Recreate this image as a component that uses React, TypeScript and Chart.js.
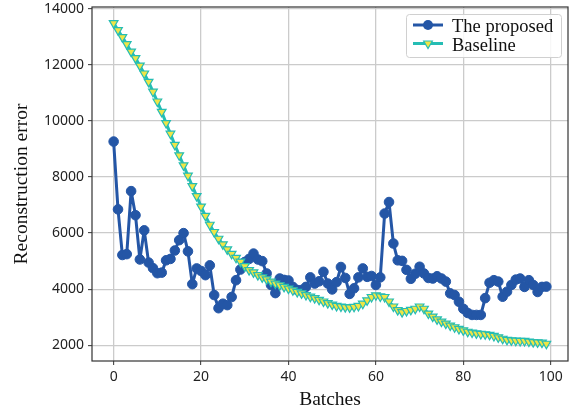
import React, { useEffect, useRef } from 'react';
import { Chart, registerables } from 'chart.js';

Chart.register(...registerables);

// Batches 0..99
const proposed: number[] = [
  9270, 6850, 5220, 5250, 7500, 6640, 5060, 6100, 4950, 4750,
  4570, 4590, 5030, 5080, 5380, 5750, 6000, 5350, 4180, 4740,
  4650, 4500, 4850, 3790, 3320, 3480, 3430, 3720, 4320, 4700,
  4970, 5080, 5270, 5060, 5000, 4560, 4150, 3860, 4380, 4330,
  4310, 4080, 3970, 3970, 4080, 4420, 4200, 4280, 4620, 4200,
  3990, 4250, 4790, 4400, 3830, 4030, 4420, 4740, 4440, 4470,
  4150, 4420, 6700, 7110, 5630, 5030, 5010, 4690, 4370, 4550,
  4800, 4560, 4400, 4380, 4460, 4380, 4270, 3850, 3790, 3550,
  3300, 3150, 3080, 3080, 3080, 3680, 4230, 4320, 4270, 3730,
  3910, 4150, 4340, 4380, 4080, 4320, 4150, 3900, 4080, 4090,
];

const baseline: number[] = [
  13500, 13250, 13000, 12750, 12480, 12250, 11980, 11700, 11400, 11050,
  10700, 10330, 9930, 9550, 9150, 8780, 8420, 8050, 7680, 7320,
  6950, 6620, 6300, 6040, 5800, 5600, 5420, 5260, 5120, 4980,
  4820, 4680, 4600, 4500, 4420, 4350, 4270, 4200, 4140, 4080,
  4020, 3960, 3900, 3850, 3790, 3730, 3680, 3620, 3560, 3500,
  3450, 3400, 3380, 3360, 3350, 3370, 3400, 3480, 3600, 3720,
  3780, 3740, 3720, 3560, 3380, 3250, 3180, 3220, 3260, 3300,
  3380, 3300, 3130, 3020, 2920, 2840, 2770, 2700, 2640, 2580,
  2530, 2480, 2450, 2420, 2400, 2390, 2370, 2330, 2280, 2230,
  2190, 2170, 2160, 2150, 2150, 2130, 2110, 2100, 2090, 2050,
];

const xTicks: number[] = [0, 20, 40, 60, 80, 100];
const yTicks: number[] = [2000, 4000, 6000, 8000, 10000, 12000, 14000];
const seriesNames: string[] = ['The proposed', 'Baseline'];

const BLUE = '#2456a6';
const TEAL = '#25bdb4';
const YELLOW = '#efe546';
const SERIF = '"Liberation Serif", "Times New Roman", serif';
const SANS = '"Noto Sans", "Open Sans", sans-serif';

const framePlugin = {
  id: 'frame',
  afterDatasetsDraw(chart: any) {
    const { ctx, chartArea: a } = chart;
    ctx.save();
    ctx.strokeStyle = '#333333';
    ctx.lineWidth = 1.2;
    ctx.strokeRect(a.left, a.top, a.right - a.left, a.bottom - a.top);
    ctx.restore();
  },
};

const legendPlugin = {
  id: 'innerLegend',
  afterDraw(chart: any) {
    const { ctx } = chart;
    ctx.save();
    const bx = 406.5, by = 14.5, bw = 155, bh = 43, r = 3;
    ctx.beginPath();
    ctx.moveTo(bx + r, by);
    ctx.lineTo(bx + bw - r, by);
    ctx.quadraticCurveTo(bx + bw, by, bx + bw, by + r);
    ctx.lineTo(bx + bw, by + bh - r);
    ctx.quadraticCurveTo(bx + bw, by + bh, bx + bw - r, by + bh);
    ctx.lineTo(bx + r, by + bh);
    ctx.quadraticCurveTo(bx, by + bh, bx, by + bh - r);
    ctx.lineTo(bx, by + r);
    ctx.quadraticCurveTo(bx, by, bx + r, by);
    ctx.closePath();
    ctx.fillStyle = 'rgba(255,255,255,0.85)';
    ctx.fill();
    ctx.strokeStyle = '#d0d0d0';
    ctx.lineWidth = 1;
    ctx.stroke();

    const rows = [25, 43.5];
    const x0 = 413, x1 = 443, xm = 428;
    ctx.strokeStyle = BLUE;
    ctx.lineWidth = 3;
    ctx.beginPath();
    ctx.moveTo(x0, rows[0]);
    ctx.lineTo(x1, rows[0]);
    ctx.stroke();
    ctx.fillStyle = BLUE;
    ctx.beginPath();
    ctx.arc(xm, rows[0], 5, 0, Math.PI * 2);
    ctx.fill();
    ctx.strokeStyle = TEAL;
    ctx.beginPath();
    ctx.moveTo(x0, rows[1]);
    ctx.lineTo(x1, rows[1]);
    ctx.stroke();
    const tr = 5;
    ctx.beginPath();
    ctx.moveTo(xm, rows[1] + tr);
    ctx.lineTo(xm - tr * 0.866, rows[1] - tr * 0.5);
    ctx.lineTo(xm + tr * 0.866, rows[1] - tr * 0.5);
    ctx.closePath();
    ctx.fillStyle = YELLOW;
    ctx.fill();
    ctx.strokeStyle = TEAL;
    ctx.lineWidth = 1.2;
    ctx.stroke();

    ctx.fillStyle = '#111111';
    ctx.font = `18.5px ${SERIF}`;
    ctx.textAlign = 'left';
    ctx.textBaseline = 'alphabetic';
    ctx.fillText(seriesNames[0], 452, 32);
    ctx.fillText(seriesNames[1], 452, 50.5);
    ctx.restore();
  },
};

export default function App() {
  const canvasRef = useRef<HTMLCanvasElement | null>(null);

  useEffect(() => {
    if (!canvasRef.current) return;
    const chart = new Chart(canvasRef.current, {
      type: 'line',
      data: {
        datasets: [
          {
            label: seriesNames[0],
            data: proposed.map((v, i) => ({ x: i, y: v })),
            borderColor: BLUE,
            backgroundColor: BLUE,
            borderWidth: 3,
            borderJoinStyle: 'round',
            pointStyle: 'circle',
            pointRadius: 4.8,
            pointBackgroundColor: BLUE,
            pointBorderColor: BLUE,
            pointBorderWidth: 1,
            tension: 0,
            order: 1,
          },
          {
            label: seriesNames[1],
            data: baseline.map((v, i) => ({ x: i, y: v })),
            borderColor: TEAL,
            backgroundColor: YELLOW,
            borderWidth: 3,
            borderJoinStyle: 'round',
            pointStyle: 'triangle',
            pointRotation: 180,
            pointRadius: 5,
            pointBackgroundColor: YELLOW,
            pointBorderColor: TEAL,
            pointBorderWidth: 1.2,
            tension: 0,
            order: 0,
          },
        ],
      },
      options: {
        responsive: false,
        animation: false,
        layout: { padding: { left: 0, right: 7, top: 7, bottom: 0 } },
        plugins: {
          legend: { display: false },
          tooltip: { enabled: false },
        },
        scales: {
          x: {
            type: 'linear',
            min: -4.95,
            max: 103.95,
            afterBuildTicks: (scale: any) => {
              scale.ticks = xTicks.map((v) => ({ value: v }));
            },
            afterFit: (scale: any) => {
              scale.height = 55;
              scale.paddingLeft = 0;
              scale.paddingRight = 0;
            },
            grid: {
              color: '#cbcbcb',
              lineWidth: 1.3,
              tickColor: '#333333',
              tickLength: 4,
              tickWidth: 1,
            },
            border: { display: false },
            ticks: {
              padding: 4,
              color: '#222222',
              font: { family: SANS, size: 14 },
              maxRotation: 0,
            },
            title: {
              display: true,
              text: 'Batches',
              color: '#111111',
              font: { family: SERIF, size: 19.5 },
              padding: { top: 0, bottom: 4 },
            },
          },
          y: {
            type: 'linear',
            min: 1435,
            max: 14074,
            afterBuildTicks: (scale: any) => {
              scale.ticks = yTicks.map((v) => ({ value: v }));
            },
            afterFit: (scale: any) => {
              scale.width = 92;
              scale.paddingTop = 0;
              scale.paddingBottom = 0;
            },
            grid: {
              color: '#cbcbcb',
              lineWidth: 1.3,
              tickColor: '#333333',
              tickLength: 4,
              tickWidth: 1,
            },
            border: { display: false },
            ticks: {
              padding: 4,
              color: '#222222',
              font: { family: SANS, size: 14 },
              callback: (v: any) => String(v),
            },
            title: {
              display: true,
              text: 'Reconstruction error',
              color: '#111111',
              font: { family: SERIF, size: 19.5 },
              padding: { top: 10, bottom: 0 },
            },
          },
        },
      },
      plugins: [framePlugin, legendPlugin],
    } as any);
    return () => chart.destroy();
  }, []);

  return (
    <div style={{ position: 'absolute', left: 0, top: 0, width: 575, height: 416, background: '#ffffff' }}>
      <canvas ref={canvasRef} width={575} height={416} style={{ width: 575, height: 416, display: 'block' }} />
    </div>
  );
}
